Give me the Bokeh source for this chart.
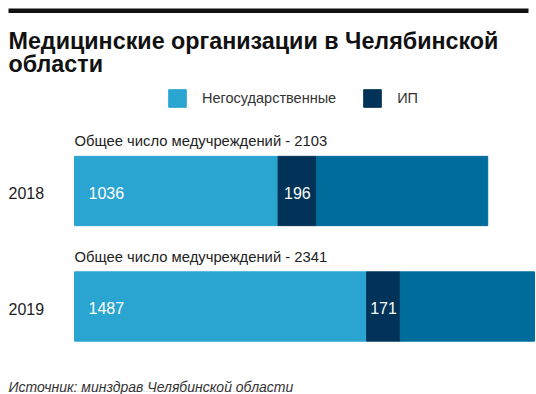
from bokeh.plotting import figure
from bokeh.models import ColumnDataSource, Range1d, Label, BoxAnnotation, Legend, LegendItem
from bokeh.core.properties import value
from bokeh.embed import file_html
from bokeh.resources import INLINE

# ---- data ----
years = ["2018", "2019"]
totals = [2103, 2341]
private = [1036, 1487]          # Негосударственные
ip = [196, 171]                 # ИП
title_lines = ["Медицинские организации в Челябинской", "области"]
legend_labels = ["Негосударственные", "ИП"]
note_prefix = "Общее число медучреждений - "
source_text = "Источник: минздрав Челябинской области"

C_LIGHT = "#2AA4D1"
C_NAVY = "#003357"
C_MID = "#006C9C"
FONT = "Liberation Sans"

# ---- geometry ----
W, H = 536, 394
x0_px, xend_px = 74, 534
sx = (xend_px - x0_px) / max(totals)
unit = 115.5
y0_px = 190.5

def px_x(px):
    return (px - x0_px) / sx

def px_y(py):
    return (py - y0_px) / unit

idx = list(range(len(years)))
rest = [t - a - b for t, a, b in zip(totals, private, ip)]
src = ColumnDataSource(dict(
    y=idx,
    year=years,
    p_left=[0] * len(idx),
    p_right=private,
    i_left=private,
    i_right=[a + b for a, b in zip(private, ip)],
    r_left=[a + b for a, b in zip(private, ip)],
    r_right=totals,
    p_lab=[str(v) for v in private],
    i_lab=[str(v) for v in ip],
    i_mid=[a + b / 2 for a, b in zip(private, ip)],
    note=[note_prefix + str(t) for t in totals],
    note_y=[i - 0.43 for i in idx],
    lab_y=[i + 0.015 for i in idx],
))

p = figure(width=W, height=H, output_backend="svg", toolbar_location=None,
           x_range=Range1d(px_x(0), px_x(W)),
           y_range=Range1d(px_y(H), px_y(0)),
           x_axis_type=None, y_axis_type=None, min_border=0,
           outline_line_color=None, background_fill_color="white",
           border_fill_color="white")
p.grid.visible = False

bh = 0.6
r_p = p.hbar(y="y", left="p_left", right="p_right", height=bh, color=C_LIGHT, source=src)
r_i = p.hbar(y="y", left="i_left", right="i_right", height=bh, color=C_NAVY, source=src)
p.hbar(y="y", left="r_left", right="r_right", height=bh, color=C_MID, source=src)

# value labels
p.text(x="p_left", y="lab_y", text="p_lab", source=src, x_offset=14,
       text_font=value(FONT), text_font_size="16px", text_color="white",
       text_baseline="middle", text_align="left")
p.text(x="i_mid", y="lab_y", text="i_lab", source=src,
       text_font=value(FONT), text_font_size="16px", text_color="white",
       text_baseline="middle", text_align="center")
# notes above bars
p.text(x="p_left", y="note_y", text="note", source=src,
       text_font=value(FONT), text_font_size="14.8px", text_color="#222222",
       text_baseline="middle", text_align="left")
# year labels
p.text(x=[px_x(8)] * len(idx), y=[i + 0.02 for i in idx], text=years,
       text_font=value(FONT), text_font_size="16px", text_color="#222222",
       text_baseline="middle", text_align="left")

# top rule
p.add_layout(BoxAnnotation(left=8, right=528, top=H - 8, bottom=H - 12.5,
                           left_units="screen", right_units="screen",
                           top_units="screen", bottom_units="screen",
                           fill_color="#111111", fill_alpha=1, line_color=None))

# title
for text, base in zip(title_lines, [40.5, 63]):
    p.add_layout(Label(x=8, y=H - base, x_units="screen", y_units="screen",
                       text=text, text_font=FONT, text_font_style="bold",
                       text_font_size="23.3px", text_color="#111111",
                       text_baseline="alphabetic"))

# legend
legend = Legend(items=[LegendItem(label=legend_labels[0], renderers=[r_p]),
                       LegendItem(label=legend_labels[1], renderers=[r_i])],
                orientation="horizontal", location=(166, H - 109),
                glyph_width=22, glyph_height=22, label_height=22,
                label_standoff=14, spacing=25, padding=0, margin=0,
                border_line_color=None, background_fill_alpha=0,
                label_text_font=FONT, label_text_font_size="14.5px",
                label_text_color="#333333")
p.add_layout(legend, "center")

# source
p.add_layout(Label(x=8, y=H - 386, x_units="screen", y_units="screen",
                   text=source_text, text_font=FONT, text_font_style="italic",
                   text_font_size="14px", text_color="#333333", text_baseline="alphabetic"))
p.segment(x0=[px_x(8)], x1=[px_x(290)], y0=[px_y(391)], y1=[px_y(391)],
          line_color="#bbbbbb", line_width=1, line_dash="1 2")

open("out.html", "w").write(file_html(p, INLINE))
